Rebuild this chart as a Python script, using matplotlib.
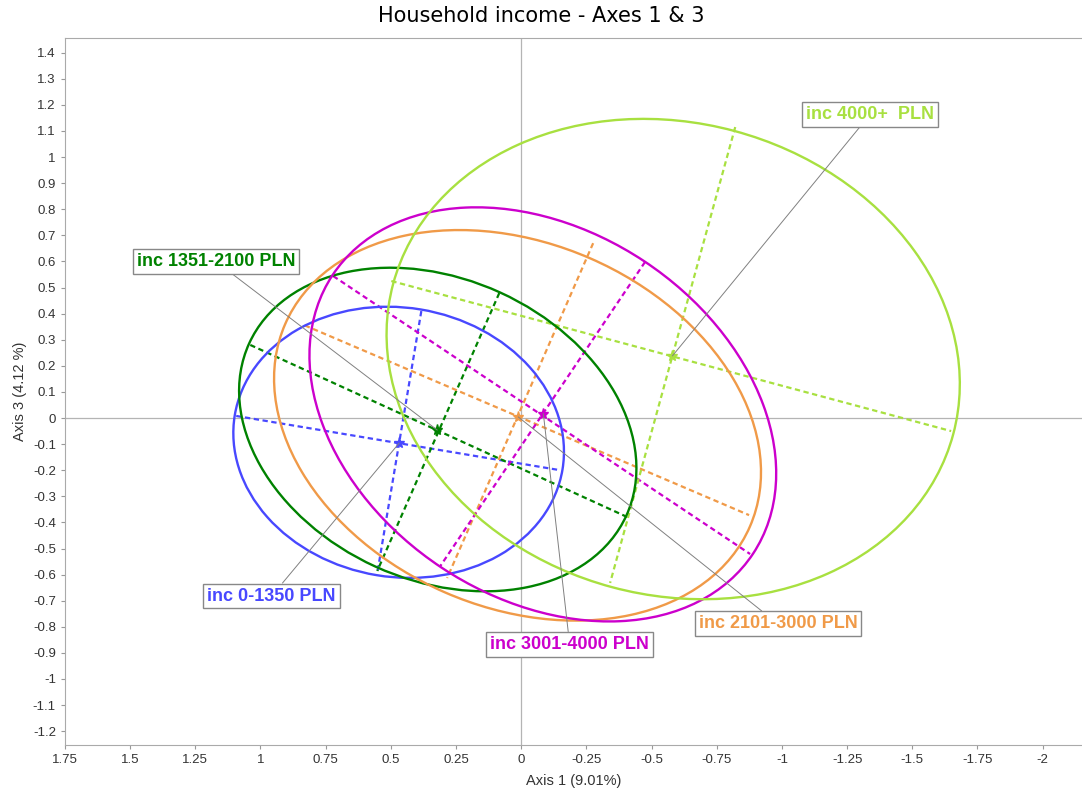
import matplotlib.pyplot as plt
from matplotlib.patches import Ellipse
import numpy as np

# groups (income classes)
labels = ["inc 0-1350 PLN", "inc 1351-2100 PLN", "inc 2101-3000 PLN",
          "inc 3001-4000 PLN", "inc 4000+  PLN"]
colors = ["#4848ff", "#008200", "#f09a48", "#cc00cc", "#a8e040"]

# group centres (Axis 1, Axis 3)
center_x = [0.468, 0.322, 0.011, -0.085, -0.580]
center_y = [-0.096, -0.046, 0.004, 0.017, 0.238]

# ellipses: centre, semi axes, rotation (deg)
ell_x = [0.470, 0.320, 0.014, -0.083, -0.583]
ell_y = [-0.093, -0.044, -0.028, 0.014, 0.226]
semi_a = [0.637, 0.795, 0.972, 0.967, 1.112]
semi_b = [0.516, 0.577, 0.698, 0.704, 0.905]
angle_deg = [9.4, 24.5, 23.5, 33.5, 15.0]

# dashed principal axes (end points)
major_x0 = [1.093, 1.039, 0.830, 0.721, 0.498]
major_y0 = [0.008, 0.280, 0.355, 0.544, 0.525]
major_x1 = [-0.150, -0.406, -0.874, -0.878, -1.649]
major_y1 = [-0.200, -0.379, -0.372, -0.521, -0.050]
minor_x0 = [0.383, 0.084, -0.276, -0.475, -0.821]
minor_y0 = [0.410, 0.479, 0.670, 0.598, 1.115]
minor_x1 = [0.552, 0.552, 0.284, 0.310, -0.341]
minor_y1 = [-0.594, -0.586, -0.613, -0.567, -0.632]

# label box positions
label_x = [0.957, 1.171, -0.985, -0.186, -1.338]
label_y = [-0.682, 0.600, -0.789, -0.868, 1.163]

x_ticks = np.arange(1.75, -2.01, -0.25)
y_ticks = np.arange(-1.2, 1.41, 0.1)

plt.rcParams["font.family"] = ["Liberation Sans", "DejaVu Sans"]

fig = plt.figure(figsize=(10.82, 7.93), dpi=100)
ax = fig.add_axes([0.060, 0.0605, 0.940, 0.8915])

ax.axhline(0, color="#b4b4b4", lw=0.9, zorder=0)
ax.axvline(0, color="#b4b4b4", lw=0.9, zorder=0)

for i in range(len(labels)):
    c = colors[i]
    ax.plot([major_x0[i], major_x1[i]], [major_y0[i], major_y1[i]],
            color=c, lw=1.6, ls=(0, (2.4, 1.6)), zorder=2)
    ax.plot([minor_x0[i], minor_x1[i]], [minor_y0[i], minor_y1[i]],
            color=c, lw=1.6, ls=(0, (2.4, 1.6)), zorder=2)
    ax.add_patch(Ellipse((ell_x[i], ell_y[i]), 2 * semi_a[i], 2 * semi_b[i],
                         angle=angle_deg[i], fill=False, ec=c, lw=1.7, zorder=3))
    ax.plot(center_x[i], center_y[i], marker="*", ms=8, color=c, zorder=4)
    ax.annotate(labels[i], xy=(center_x[i], center_y[i]),
                xytext=(label_x[i], label_y[i]),
                ha="center", va="center", fontsize=13, fontweight="bold",
                color=c,
                bbox=dict(boxstyle="square,pad=0.22", fc="white", ec="#888888", lw=1),
                arrowprops=dict(arrowstyle="-", color="#808080", lw=0.7,
                                shrinkA=0, shrinkB=0),
                zorder=5)

ax.set_xlim(1.75, -2.151)
ax.set_ylim(-1.253, 1.456)
ax.set_xticks(x_ticks)
ax.set_xticklabels([f"{v:g}" for v in np.round(x_ticks, 2)])
ax.set_yticks(y_ticks)
ax.set_yticklabels([f"{v:g}" for v in np.round(y_ticks, 1)])
ax.tick_params(labelsize=9.5, labelcolor="#333333", length=3, width=0.8,
               color="#999999")

for s in ["left", "bottom", "top"]:
    ax.spines[s].set_color("#aaaaaa")
ax.spines["right"].set_visible(False)

ax.set_xlabel("Axis 1 (9.01%)", fontsize=10.5, color="#333333", labelpad=6)
ax.set_ylabel("Axis 3 (4.12 %)", fontsize=10.5, color="#333333", labelpad=4)
fig.suptitle("Household income - Axes 1 & 3", fontsize=15, y=0.992,
             family="DejaVu Sans")

plt.savefig("out.png", dpi=100)
